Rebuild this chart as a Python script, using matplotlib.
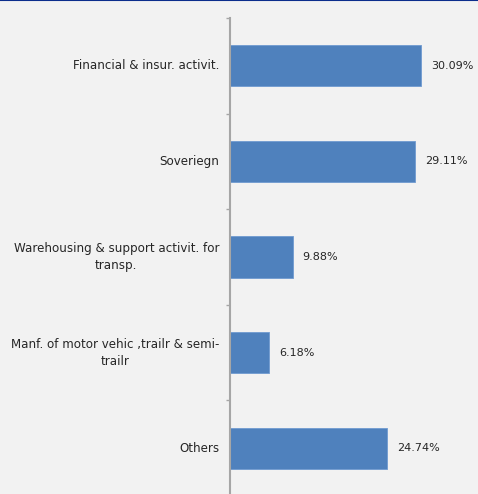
import matplotlib as mpl
mpl.use('Agg')

import matplotlib.pyplot as plt
from matplotlib.lines import Line2D
from matplotlib.transforms import offset_copy

# sector exposure, top to bottom
sectors = ['Financial & insur. activit.',
           'Soveriegn',
           'Warehousing & support activit. for\ntransp.',
           'Manf. of motor vehic ,trailr & semi-\ntrailr',
           'Others']
shares = [30.09, 29.11, 9.88, 6.18, 24.74]
share_labels = ['30.09%', '29.11%', '9.88%', '6.18%', '24.74%']

BG = '#f2f2f2'
BAR = '#4f81bd'
GREY = '#a6a6a6'
TXT = '#262626'

plt.rcParams['font.family'] = ['DejaVu Sans']

fig = plt.figure(figsize=(4.78, 4.94), dpi=100, facecolor=BG)
ax = fig.add_axes([230 / 478, -2 / 494, 248 / 478, 478 / 494])
ax.set_facecolor(BG)

ypos = list(range(len(sectors)))
ax.barh(ypos, shares, height=0.43, color=BAR, edgecolor='#6f9ad0', linewidth=0.6)

val_tr = offset_copy(ax.transData, fig=fig, x=10, y=0, units='dots')
for y, v, lab in zip(ypos, shares, share_labels):
    ax.text(v, y, lab, transform=val_tr, ha='left', va='center',
            fontsize=8.0, color=TXT)

ax.set_xlim(0, 39.06)
ax.set_ylim(len(sectors) - 0.5, -0.5)

# category boundaries get the tick marks, names sit between them
ax.set_yticks([i - 0.5 for i in range(len(sectors) + 1)])
ax.set_yticklabels([])
ax.tick_params(axis='y', length=3, width=1, color=GREY, direction='out')
name_tr = offset_copy(ax.transData, fig=fig, x=-11, y=0, units='dots')
for y, name in zip(ypos, sectors):
    ax.text(0, y, name, transform=name_tr, ha='right', va='center',
            multialignment='center', fontsize=8.6, color=TXT, linespacing=1.4)

ax.set_xticks([])
for side in ['top', 'right', 'bottom']:
    ax.spines[side].set_visible(False)
ax.spines['left'].set_color(GREY)
ax.spines['left'].set_linewidth(1.5)

# thin rule along the top edge
fig.add_artist(Line2D([0, 1], [0.999, 0.999], transform=fig.transFigure,
                      color='#0b2d8c', linewidth=1.5))

fig.savefig('out.png', dpi=100, facecolor=BG)
